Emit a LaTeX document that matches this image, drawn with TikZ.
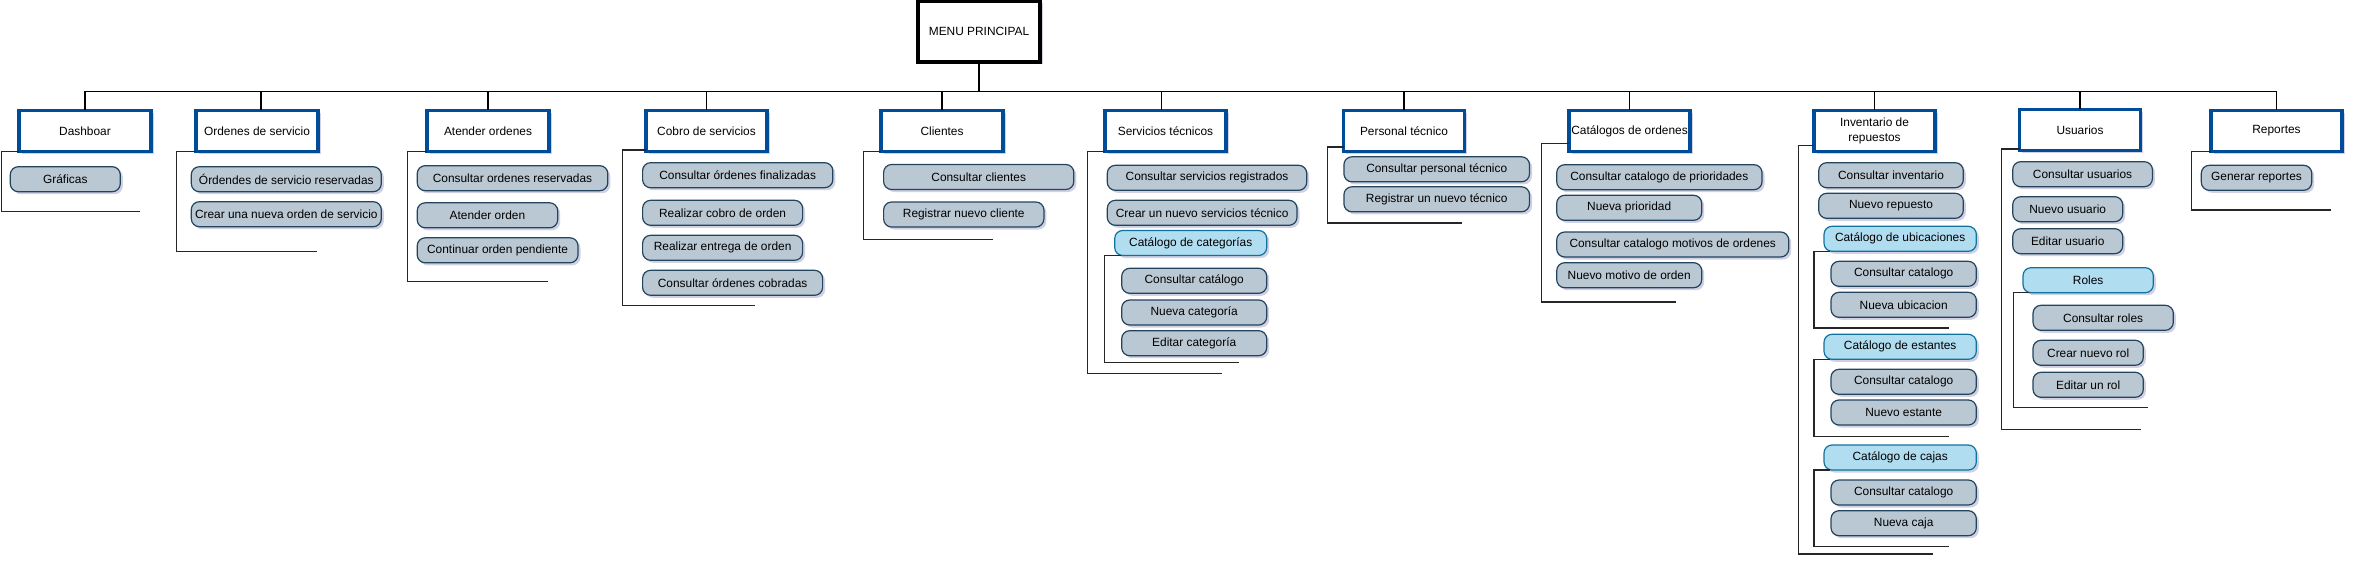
\documentclass[tikz,border=0pt]{standalone}
\usepackage{fontspec}
\setmainfont{Liberation Sans}
\usetikzlibrary{shadows}
\definecolor{hblue}{RGB}{0,76,153}
\definecolor{ifill}{HTML}{BAC8D3}
\definecolor{iborder}{HTML}{23445D}
\definecolor{cfill}{HTML}{B1DDF0}
\definecolor{cborder}{HTML}{10739E}
\tikzset{
  shad/.style={drop shadow={shadow xshift=2.5pt,shadow yshift=-2.5pt,fill=black!60!blue,opacity=0.18}},
  mainbox/.style={draw=black,line width=3.4pt,fill=white,minimum width=122pt,minimum height=61pt,inner sep=0pt,outer sep=0pt,shad},
  hdr/.style={draw=hblue,line width=3.2pt,fill=white,minimum width=121pt,minimum height=41pt,inner sep=0pt,outer sep=0pt,align=center,shad},
  item/.style={draw=iborder,line width=1.2pt,fill=ifill,rounded corners=8pt,minimum height=25pt,inner sep=0pt,outer sep=0pt,anchor=west,shad},
  catbox/.style={item,draw=cborder,fill=cfill},
  brk/.style={draw=black!85,line width=1.3pt},
  conn/.style={draw=black,line width=1.3pt},
}
\begin{document}
\begin{tikzpicture}[x=1pt,y=-1pt,font=\fontsize{11.9}{14.3}\selectfont]
\useasboundingbox (0,0) rectangle (2355,567);
% main
\node[mainbox] (menu) at (979,31.5) {MENU PRINCIPAL};
\coordinate (busL) at (85,91.3);
\coordinate (busR) at (2276.5,91.3);
\draw[conn] (busL) -- (busR);
\draw[conn,line width=2.8pt] (menu.south) -- (menu.south |- busL);
% headers
\node[hdr,minimum width=132pt] (dash) at (85,131) {Dashboar};
\node[hdr,minimum width=122pt] (ord) at (257,131) {Ordenes de servicio};
\node[hdr,minimum width=122pt] (aten) at (488,131) {Atender ordenes};
\node[hdr] (cobro) at (706.5,131) {Cobro de servicios};
\node[hdr,minimum width=122pt] (cli) at (942,131) {Clientes};
\node[hdr] (serv) at (1165.5,131) {Servicios técnicos};
\node[hdr] (pers) at (1404,131) {Personal técnico};
\node[hdr] (catord) at (1629.5,131) {Catálogos de ordenes};
\node[hdr] (inv) at (1874.5,131) {Inventario de\\repuestos};
\node[hdr] (usu) at (2080,130) {Usuarios};
\node[hdr,minimum width=131pt] (rep) at (2276.5,131) {Reportes};
% stems
\foreach \h in {dash,aten,cobro,cli,pers,catord,inv,usu,rep}
  \draw[conn] (\h.north) -- (\h.north |- busL);
\draw[conn] ([xshift=4pt]ord.north) -- ([xshift=4pt]ord.north |- busL);
\draw[conn] ([xshift=-4pt]serv.north) -- ([xshift=-4pt]serv.north |- busL);
% Dashboar
\node[item,minimum width=110pt] (g1) at (10.3,179.2) {Gráficas};
\coordinate (dashE) at (140,211.3);
\draw[brk] (dash.south west) -- ++(-17.8,0) |- (dashE);
% Ordenes de servicio
\node[item,minimum width=190pt] (o1) at (191.3,179.2) {Órdendes de servicio reservadas};
\node[item,minimum width=190pt] (o2) at (191.3,214.2) {Crear una nueva orden de servicio};
\coordinate (ordE) at (316.5,251.3);
\draw[brk] (ord.south west) -- ++(-19.2,0) |- (ordE);
% Atender ordenes
\node[item,minimum width=190.6pt] (a1) at (417.2,178.2) {Consultar ordenes reservadas};
\node[item,minimum width=140.5pt] (a2) at (417.2,215.3) {Atender orden};
\node[item,minimum width=160.8pt] (a3) at (417.2,250.3) {Continuar orden pendiente};
\coordinate (atenE) at (547.7,281.3);
\draw[brk] (aten.south west) -- ++(-19.3,0) |- (atenE);
% Cobro
\node[item,minimum width=190.2pt] (c1) at (642.6,175.2) {Consultar órdenes finalizadas};
\node[item,minimum width=160pt] (c2) at (642.6,212.8) {Realizar cobro de orden};
\node[item,minimum width=160pt] (c3) at (642.6,247.8) {Realizar entrega de orden};
\node[item,minimum width=180pt] (c4) at (642.6,282.8) {Consultar órdenes cobradas};
\coordinate (cobroE) at (755,305.3);
\draw[brk] ([yshift=1.5pt]cobro.south west) -- ++(-23.3,0) |- (cobroE);
% Clientes
\node[item,minimum width=190.2pt] (k1) at (883.6,177) {Consultar clientes};
\node[item,minimum width=160.3pt] (k2) at (883.6,214.5) {Registrar nuevo cliente};
\coordinate (cliE) at (992.6,239.3);
\draw[brk] (cli.south west) -- ++(-17.3,0) |- (cliE);
% Servicios tecnicos
\node[item,minimum width=199.4pt] (s1) at (1107.3,177.8) {Consultar servicios registrados};
\node[item,minimum width=189.7pt] (s2) at (1107.3,212.8) {Crear un nuevo servicios técnico};
\node[catbox,minimum width=152pt] (scat) at (1114.7,243) {Catálogo de categorías};
\node[item,minimum width=145pt] (s3) at (1121.7,280.8) {Consultar catálogo};
\node[item,minimum width=145pt] (s4) at (1121.7,312.5) {Nueva categoría};
\node[item,minimum width=145pt] (s5) at (1121.7,343.2) {Editar categoría};
\coordinate (servE) at (1221.7,373.7);
\draw[brk] (serv.south west) -- ++(-17.7,0) |- (servE);
\coordinate (scatE) at (1238.7,362.7);
\draw[brk] ([xshift=6pt]scat.south west) -- ++(-16.4,0) |- (scatE);
% Personal tecnico
\node[item,minimum width=185.6pt] (p1) at (1343.9,169.3) {Consultar personal técnico};
\node[item,minimum width=185.6pt] (p2) at (1343.9,199.3) {Registrar un nuevo técnico};
\coordinate (persE) at (1462,223);
\draw[brk] ([yshift=4.5pt]pers.south west) -- ++(-16,0) |- (persE);
% Catalogos de ordenes
\node[item,minimum width=205.3pt] (q1) at (1556.7,177.2) {Consultar catalogo de prioridades};
\node[item,minimum width=145pt] (q2) at (1556.7,207.8) {Nueva prioridad};
\node[item,minimum width=232pt] (q3) at (1556.7,244.5) {Consultar catalogo motivos de ordenes};
\node[item,minimum width=145pt] (q4) at (1556.7,275.2) {Nuevo motivo de orden};
\coordinate (catordE) at (1675.7,302);
\draw[brk] ([yshift=8pt]catord.south west) -- ++(-27.3,0) |- (catordE);
% Inventario
\node[item,minimum width=144.6pt] (i1) at (1818.7,175.2) {Consultar inventario};
\node[item,minimum width=144.6pt] (i2) at (1818.7,205.8) {Nuevo repuesto};
\node[catbox,minimum width=152.3pt] (ubic) at (1824,238.8) {Catálogo de ubicaciones};
\node[item,minimum width=145.3pt] (i3) at (1831,273.8) {Consultar catalogo};
\node[item,minimum width=145.3pt] (i4) at (1831,304.8) {Nueva ubicacion};
\node[catbox,minimum width=152.3pt] (est) at (1824,346.8) {Catálogo de estantes};
\node[item,minimum width=145.3pt] (i5) at (1831,381.8) {Consultar catalogo};
\node[item,minimum width=145.3pt] (i6) at (1831,412.5) {Nuevo estante};
\node[catbox,minimum width=152.3pt] (cajas) at (1824,457.5) {Catálogo de cajas};
\node[item,minimum width=145.3pt] (i7) at (1831,492.5) {Consultar catalogo};
\node[item,minimum width=145.3pt] (i8) at (1831,523.2) {Nueva caja};
\coordinate (invE) at (1932.7,554);
\draw[brk] ([yshift=6pt]inv.south west) -- ++(-15.2,0) |- (invE);
\coordinate (ubicE) at (1948.7,328);
\draw[brk] ([xshift=6pt]ubic.south west) -- ++(-16,0) |- (ubicE);
\coordinate (estE) at (1948.7,436.3);
\draw[brk] ([xshift=6pt]est.south west) -- ++(-16,0) |- (estE);
\coordinate (cajasE) at (1948.7,546.7);
\draw[brk] ([xshift=6pt]cajas.south west) -- ++(-16,0) |- (cajasE);
% Usuarios
\node[item,minimum width=139.7pt] (u1) at (2012.7,174.2) {Consultar usuarios};
\node[item,minimum width=110pt] (u2) at (2012.7,209.2) {Nuevo usuario};
\node[item,minimum width=110pt] (u3) at (2012.7,241.2) {Editar usuario};
\node[catbox,minimum width=130.3pt] (roles) at (2023,280.2) {Roles};
\node[item,minimum width=140.3pt] (u4) at (2033,317.8) {Consultar roles};
\node[item,minimum width=110.3pt] (u5) at (2033,352.8) {Crear nuevo rol};
\node[item,minimum width=110.3pt] (u6) at (2033,384.8) {Editar un rol};
\coordinate (usuE) at (2141,429.3);
\draw[brk] ([yshift=1.5pt]usu.south west) -- ++(-18,0) |- (usuE);
\coordinate (rolesE) at (2147.7,407.7);
\draw[brk] ([xshift=6pt]roles.south west) -- ++(-15.7,0) |- (rolesE);
% Reportes
\node[item,minimum width=110.4pt] (r1) at (2201.3,177.8) {Generar reportes};
\coordinate (repE) at (2331.3,210);
\draw[brk] (rep.south west) -- ++(-19.3,0) |- (repE);
\end{tikzpicture}
\end{document}
